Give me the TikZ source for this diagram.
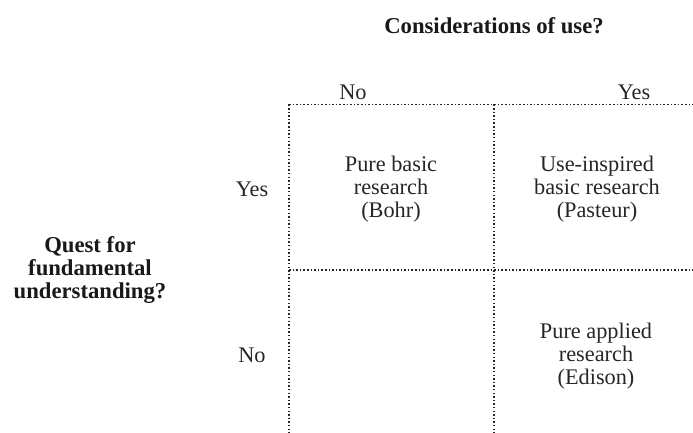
\documentclass[tikz,border=0pt]{standalone}
\usepackage{fontspec}
\setmainfont{Liberation Serif}
\begin{document}
\begin{tikzpicture}[x=1pt,y=-1pt,
  grid/.style={line width=1.5pt,dash pattern=on 1.5pt off 2.1pt,black!85},
  txt/.style={font=\fontsize{22.3}{23}\selectfont,align=center,inner sep=0pt,text=black!85},
  head/.style={font=\fontsize{22.7}{23}\selectfont\bfseries,align=center,inner sep=0pt,text=black!90}]
\useasboundingbox (0,0) rectangle (693,433);
\coordinate (tl) at (289,104.5);
\coordinate (tm) at (494,104.5);
\coordinate (tr) at (693,104.5);
\coordinate (ml) at (289,270);
\coordinate (mr) at (693,270);
\coordinate (bl) at (289,433);
\coordinate (bm) at (494,433);
\draw[grid] (tl) -- (tr);
\draw[grid] (ml) -- (mr);
\draw[grid] (tl) -- (bl);
\draw[grid] (tm) -- (bm);
\node[head] (title) at (494,26) {Considerations of use?};
\node[head] (quest) at (90,270) {Quest for\\fundamental\\understanding?};
\node[txt] (colno) at (353,92) {No};
\node[txt] (colyes) at (634,92) {Yes};
\node[txt] (rowyes) at (252,189) {Yes};
\node[txt] (rowno) at (252,355) {No};
\node[txt] (bohr) at (391,189) {Pure basic\\research\\(Bohr)};
\node[txt] (pasteur) at (597,189) {Use-inspired\\basic research\\(Pasteur)};
\node[txt] (edison) at (596,356) {Pure applied\\research\\(Edison)};
\end{tikzpicture}
\end{document}
